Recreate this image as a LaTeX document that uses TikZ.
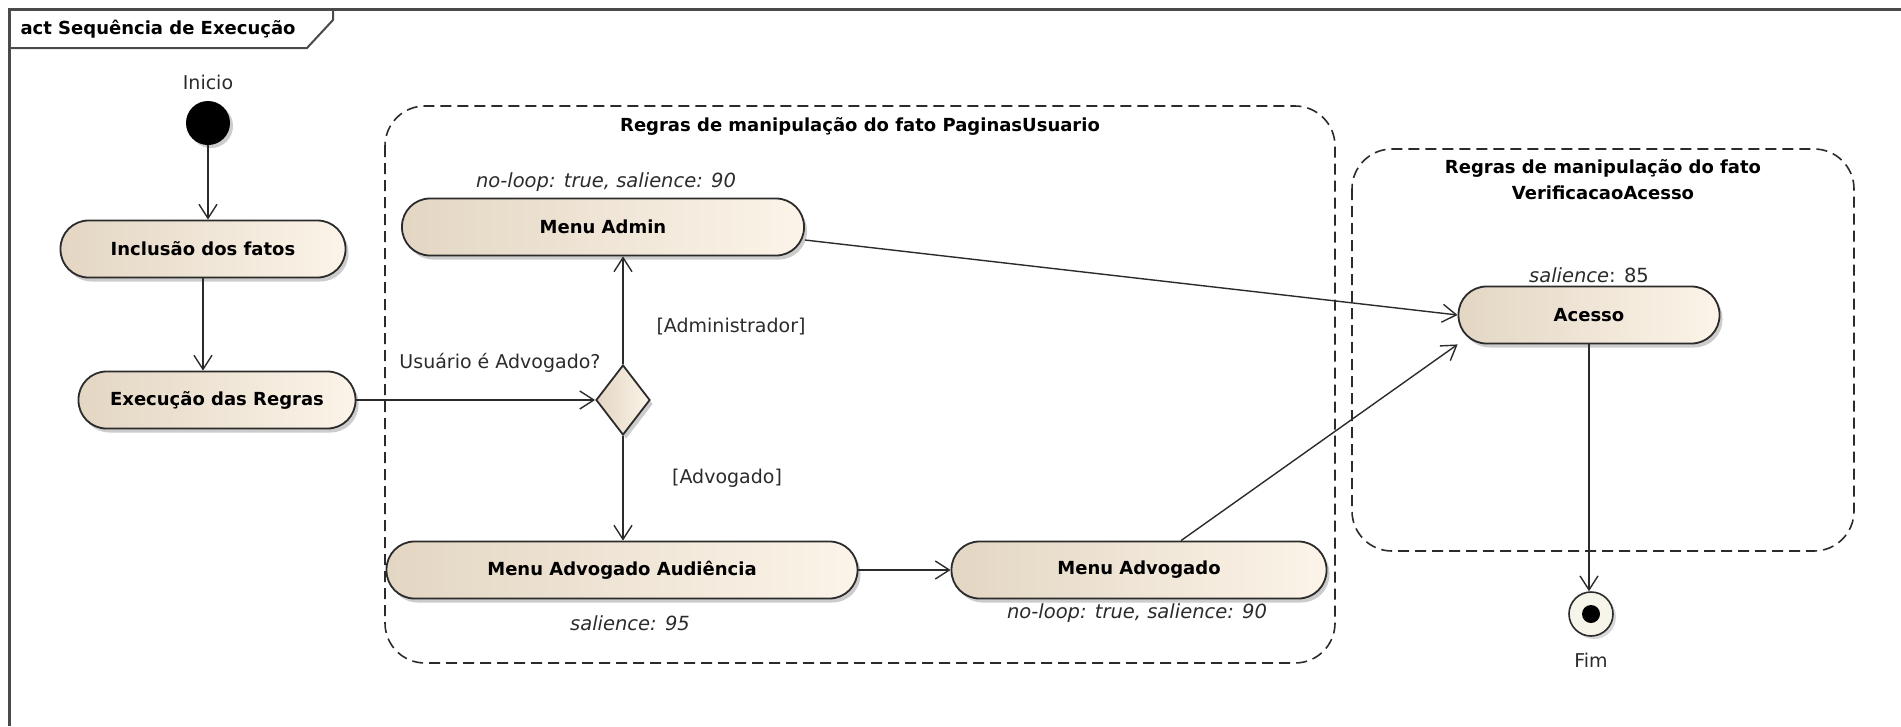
\documentclass[tikz,border=0pt]{standalone}
\usepackage{fontspec}
\setmainfont{DejaVu Sans}
\usetikzlibrary{arrows.meta,shapes.geometric,shadows,positioning}
\definecolor{actleft}{HTML}{E3D6C3}
\definecolor{actright}{HTML}{FCF4E9}
\definecolor{linegray}{HTML}{2B2B2B}
\definecolor{framegray}{HTML}{4A4A4A}
\definecolor{endfill}{HTML}{F7F5EA}
\tikzset{
  actbox/.style={draw=linegray, line width=1.8pt, rounded corners=28pt, minimum height=57pt,
    left color=actleft, right color=actright, font=\fontsize{18}{21}\selectfont\bfseries,
    drop shadow={shadow xshift=3pt, shadow yshift=-4pt, fill=black!40, opacity=.5}},
  decision/.style={diamond, draw=linegray, line width=1.8pt, minimum width=54pt, minimum height=70pt,
    inner sep=0pt, left color=actleft, right color=actright,
    drop shadow={shadow xshift=3pt, shadow yshift=-4pt, fill=black!40, opacity=.5}},
  flow/.style={draw=linegray, line width=1.4pt, -{Straight Barb[length=14pt,width=18pt,line width=1.4pt]}},
  note/.style={font=\fontsize{19.5}{22}\selectfont\itshape, text=linegray},
  guard/.style={font=\fontsize{19}{22}\selectfont, text=linegray},
  group/.style={draw=linegray, line width=1.6pt, dash pattern=on 11pt off 6pt, rounded corners=40pt},
  grouptitle/.style={font=\fontsize{18}{26}\selectfont\bfseries, align=center},
}
\begin{document}
\begin{tikzpicture}[x=1pt,y=-1pt]
\useasboundingbox (0,0) rectangle (1901,726);
\draw[framegray, line width=3pt] (9,726) -- (9,9) -- (1901,9);
\draw[framegray, line width=2pt] (9,48) -- (307,48) -- (333,20) -- (333,9);
\node[anchor=west, font=\fontsize{18}{21}\selectfont\bfseries] (title) at (17,29) {act Sequência de Execução};

\draw[group] (385,106) rectangle (1335,663);
\draw[group] (1352,149) rectangle (1854,551);
\node[grouptitle] (tpag) at (860,126) {Regras de manipulação do fato PaginasUsuario};
\node[grouptitle] (tver) at (1603,180) {Regras de manipulação do fato\\VerificacaoAcesso};

\node[circle, fill=black, minimum size=44pt, inner sep=0pt,
  drop shadow={shadow xshift=3pt, shadow yshift=-3pt, fill=black!40, opacity=.5}] (start) at (208,123) {};
\node[guard] (linicio) at (208,82) {Inicio};
\node[actbox, minimum width=285pt] (incl) at (203,249) {Inclusão dos fatos};
\node[actbox, minimum width=277pt] (exec) at (217,400) {Execução das Regras};
\node[decision] (dec) at (623,400) {};
\node[actbox, minimum width=402pt] (madmin) at (603,227) {Menu Admin};
\node[actbox, minimum width=471pt] (maa) at (622,570) {Menu Advogado Audiência};
\node[actbox, minimum width=375pt] (madv) at (1139,570) {Menu Advogado};
\node[actbox, minimum width=261pt] (acesso) at (1589,315) {Acesso};
\node[circle, draw=linegray, line width=1.6pt, fill=endfill, minimum size=44pt, inner sep=0pt,
  drop shadow={shadow xshift=3pt, shadow yshift=-3pt, fill=black!30, opacity=.5}] (fim) at (1591,614) {};
\fill[black] (fim) circle (9pt);
\node[guard] (lfim) at (1591,660) {Fim};

\node[note] (nadmin) at (606,182) {no-loop: true, salience: 90};
\node[note] (nmaa) at (630,623) {salience: 95};
\node[note] (nmadv) at (1137,613) {no-loop: true, salience: 90};
\node[note] (nacesso) at (1589,275) {salience\upshape: 85};
\node[guard] (qdec) at (500,363) {Usuário é Advogado?};
\node[guard] (gadmin) at (731,327) {[Administrador]};
\node[guard] (gadv) at (727,478) {[Advogado]};

\draw[flow] (start) -- (start |- incl.north);
\draw[flow] (incl.south) -- (incl.south |- exec.north);
\draw[flow] (exec) -- (dec);
\draw[flow] (dec.north) -- (dec.north |- madmin.south);
\draw[flow] (dec.south) -- (dec.south |- maa.north);
\draw[flow] (maa) -- (madv);
\draw[flow] ([yshift=-13pt]madmin.east) -- (acesso.west);
\draw[flow] ([xshift=42pt]madv.north) -- (acesso.south west);
\draw[flow] (acesso.south) -- (acesso.south |- fim.north);
\end{tikzpicture}
\end{document}
